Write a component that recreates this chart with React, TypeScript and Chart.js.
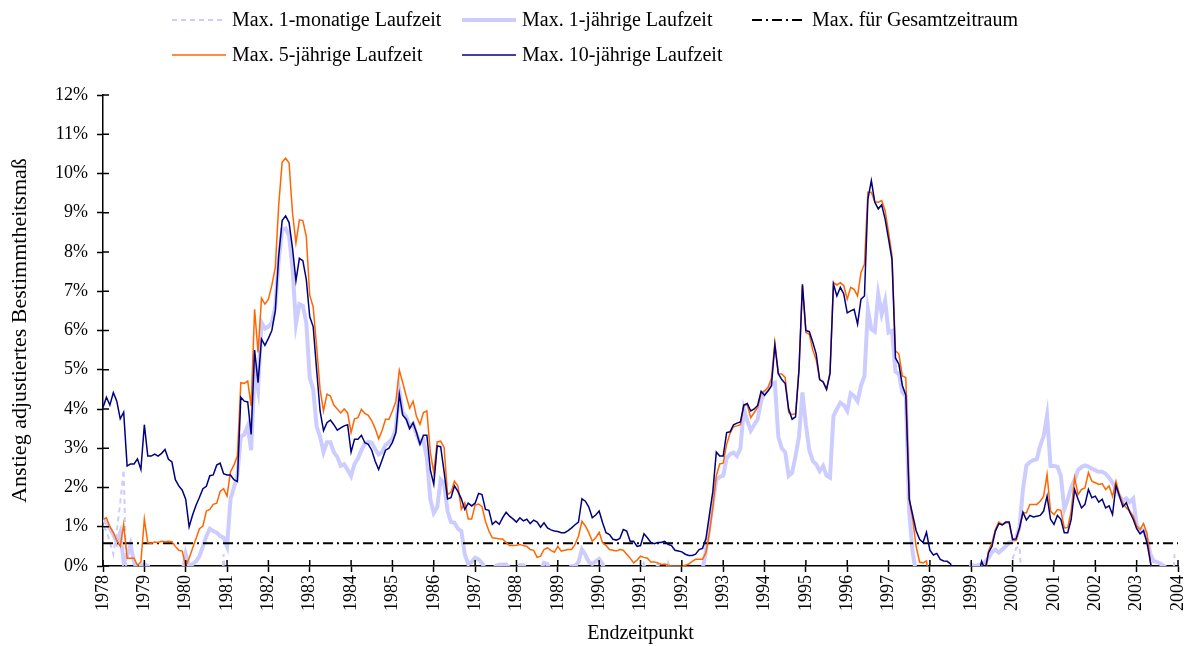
import React, { useEffect, useRef } from 'react';
import { Chart, registerables } from 'chart.js';

Chart.register(...registerables);

// ---------- data (monthly values in %, first value = January 1978) ----------
const SERIES_START = 1978;

const YEAR_TICKS = [
  1978, 1979, 1980, 1981, 1982, 1983, 1984, 1985, 1986, 1987, 1988, 1989, 1990,
  1991, 1992, 1993, 1994, 1995, 1996, 1997, 1998, 1999, 2000, 2001, 2002, 2003, 2004,
];
const PERCENT_TICKS = [0, 1, 2, 3, 4, 5, 6, 7, 8, 9, 10, 11, 12];

const OVERALL_MAX = 0.58;

const ONE_MONTH = [
  1.0, 0.9, 0.6, 0.3, 0.9, 1.6, 2.45, -1, -1, -1, -1, -1, // 1978
  -1, -1, -1, -1, -1, -1, -1, -1, -1, -1, -1, -1, // 1979
  0.4, -1, -1, -1, -1, -1, -1, -1, -1, -1, -1, 0.3, // 1980
  -1, -1, -1, -1, -1, -1, -1, -1, -1, -1, -1, -1, // 1981
  -1, -1, -1, -1, -1, -1, -1, -1, -1, -1, -1, -1, // 1982
  -1, -1, -1, -1, -1, -1, -1, -1, -1, -1, -1, -1, // 1983
  -1, -1, -1, -1, -1, -1, -1, -1, -1, -1, -1, -1, // 1984
  -1, -1, -1, -1, -1, -1, -1, -1, -1, -1, -1, -1, // 1985
  -1, -1, -1, -1, -1, -1, -1, -1, -1, -1, -1, -1, // 1986
  -1, -1, -1, -1, -1, -1, -1, -1, -1, -1, -1, -1, // 1987
  -1, -1, -1, -1, -1, -1, -1, -1, -1, -1, -1, -1, // 1988
  -1, -1, -1, -1, -1, -1, -1, -1, -1, -1, -1, -1, // 1989
  -1, -1, -1, -1, -1, -1, -1, -1, -1, -1, -1, -1, // 1990
  -1, -1, -1, -1, -1, -1, -1, -1, -1, -1, -1, -1, // 1991
  -1, -1, -1, -1, -1, -1, -1, -1, -1, -1, -1, -1, // 1992
  -1, -1, -1, -1, -1, -1, -1, -1, -1, -1, -1, -1, // 1993
  -1, -1, -1, -1, -1, -1, -1, -1, -1, -1, -1, -1, // 1994
  -1, -1, -1, -1, -1, -1, -1, -1, -1, -1, -1, -1, // 1995
  -1, -1, -1, -1, -1, -1, -1, -1, -1, -1, -1, -1, // 1996
  -1, -1, -1, -1, -1, -1, -1, -1, -1, -1, -1, -1, // 1997
  -1, -1, -1, -1, -1, -1, -1, -1, -1, -1, -1, -1, // 1998
  -1, -1, -1, -1, -1, -1, -1, -1, -1, -1, -1, -1, // 1999
  0.17, 0.46, 0.5, -1, -1, -1, -1, -1, -1, -1, -1, -1, // 2000
  -1, -1, -1, -1, -1, -1, -1, -1, -1, -1, -1, -1, // 2001
  -1, -1, -1, -1, -1, -1, -1, -1, -1, -1, -1, -1, // 2002
  -1, -1, -1, -1, -1, -1, -1, -1, -1, -1, -1, 0.3, // 2003
];

const ONE_YEAR = [
  1.2, 1.1, 0.95, 0.8, 0.6, 0.85, 0.1, 0.25, 0.55, 0.1, -0.1, 0.0, // 1978
  0.05, 0.0, -0.1, -0.2, -0.3, -0.3, -0.2, -0.2, -0.1, -0.1, -0.2, -0.2, // 1979
  0.3, 0.0, 0.05, 0.12, 0.25, 0.5, 0.76, 0.95, 0.89, 0.85, 0.76, 0.72, // 1980
  0.5, 1.7, 2.0, 2.3, 3.3, 3.35, 3.57, 2.95, 5.0, 4.5, 6.2, 6.05, // 1981
  6.1, 6.2, 6.6, 7.8, 8.57, 8.6, 8.41, 7.6, 6.16, 6.67, 6.63, 6.2, // 1982
  4.8, 4.5, 3.55, 3.3, 2.9, 3.15, 3.15, 2.9, 2.78, 2.55, 2.59, 2.45, // 1983
  2.29, 2.6, 2.74, 2.95, 3.12, 3.16, 3.14, 2.98, 2.84, 2.9, 3.08, 3.15, // 1984
  3.25, 3.5, 4.46, 3.9, 3.8, 3.55, 3.63, 3.35, 3.14, 3.2, 2.75, 1.7, // 1985
  1.35, 1.5, 2.2, 2.1, 1.4, 1.12, 1.1, 0.95, 0.89, 0.3, 0.05, 0.1, // 1986
  0.21, 0.17, 0.08, -0.1, -0.2, -0.1, 0.0, 0.03, 0.04, 0.04, -0.05, -0.1, // 1987
  -0.2, 0.02, 0.02, -0.1, -0.2, -0.3, -0.2, -0.1, 0.08, 0.05, -0.2, -0.3, // 1988
  -0.2, -0.2, -0.1, -0.1, 0.0, 0.0, 0.1, 0.42, 0.29, 0.1, 0.05, 0.12, // 1989
  0.18, 0.05, -0.2, -0.3, -0.3, -0.3, -0.3, -0.3, -0.3, -0.3, -0.3, -0.3, // 1990
  -0.3, 0.0, -0.2, -0.3, -0.2, 0.0, -0.2, -0.3, 0.0, -0.3, -0.3, -0.3, // 1991
  -0.3, -0.3, -0.3, -0.3, -0.3, -0.1, -0.1, 0.4, 1.0, 1.6, 2.2, 2.27, // 1992
  2.3, 2.75, 2.85, 2.89, 2.8, 3.0, 4.0, 3.7, 3.45, 3.6, 3.74, 4.2, // 1993
  4.42, 4.5, 4.63, 4.67, 3.3, 3.0, 2.9, 2.3, 2.38, 2.8, 3.3, 4.42, // 1994
  3.6, 2.95, 2.67, 2.59, 2.42, 2.55, 2.3, 2.25, 3.82, 4.0, 4.16, 4.1, // 1995
  3.95, 4.4, 4.33, 4.2, 4.6, 4.84, 6.54, 6.03, 5.97, 6.93, 6.42, 6.76, // 1996
  5.95, 5.99, 4.95, 4.89, 4.42, 4.33, 1.36, 0.34, -0.2, -0.4, -0.4, -0.4, // 1997
  -0.4, -0.4, -0.4, -0.4, -0.4, -0.4, -0.4, -0.4, -0.4, -0.4, -0.4, -0.4, // 1998
  0.03, 0.0, 0.02, 0.05, 0.1, 0.2, 0.35, 0.42, 0.34, 0.42, 0.5, 0.6, // 1999
  0.63, 0.7, 1.0, 1.95, 2.56, 2.65, 2.7, 2.72, 3.06, 3.31, 3.84, 2.55, // 2000
  2.55, 2.53, 2.3, 1.44, 1.7, 2.0, 2.2, 2.45, 2.52, 2.56, 2.53, 2.48, // 2001
  2.44, 2.4, 2.4, 2.35, 2.25, 2.12, 1.97, 1.8, 1.65, 1.72, 1.63, 1.72, // 2002
  1.06, 0.89, 0.93, 0.69, 0.3, 0.12, 0.1, 0.05, 0.0, -0.1, -0.1, -0.1, // 2003
];

const FIVE_YEAR = [
  1.19, 1.23, 1.0, 0.85, 0.65, 0.5, 1.06, 0.2, 0.2, 0.2, 0.02, 0.1, // 1978
  1.2, 0.59, 0.58, 0.61, 0.6, 0.63, 0.62, 0.63, 0.62, 0.5, 0.4, 0.38, // 1979
  0.0, 0.2, 0.45, 0.7, 0.95, 1.02, 1.4, 1.44, 1.57, 1.6, 1.9, 1.97, // 1980
  1.78, 2.4, 2.57, 2.8, 4.67, 4.65, 4.71, 4.08, 6.54, 5.44, 6.82, 6.67, // 1981
  6.8, 7.15, 7.6, 9.2, 10.29, 10.39, 10.27, 9.0, 8.23, 8.82, 8.8, 8.4, // 1982
  6.9, 6.6, 5.6, 4.5, 3.95, 4.38, 4.33, 4.1, 4.0, 3.9, 4.0, 3.9, // 1983
  3.4, 3.75, 3.78, 3.99, 3.89, 3.84, 3.7, 3.5, 3.24, 3.45, 3.74, 3.74, // 1984
  3.95, 4.2, 4.99, 4.67, 4.33, 4.02, 4.2, 3.8, 3.61, 3.91, 3.95, 2.9, // 1985
  2.38, 3.16, 3.18, 3.02, 1.82, 1.88, 2.16, 2.04, 1.45, 1.61, 1.2, 1.2, // 1986
  1.55, 1.58, 1.51, 1.14, 0.89, 0.72, 0.71, 0.69, 0.69, 0.6, 0.52, 0.52, // 1987
  0.53, 0.55, 0.52, 0.5, 0.42, 0.4, 0.22, 0.25, 0.42, 0.46, 0.4, 0.35, // 1988
  0.5, 0.38, 0.4, 0.42, 0.42, 0.55, 0.76, 1.14, 1.02, 0.85, 0.63, 0.72, // 1989
  0.86, 0.59, 0.52, 0.42, 0.4, 0.38, 0.42, 0.4, 0.3, 0.2, 0.08, 0.15, // 1990
  0.25, 0.22, 0.2, 0.1, 0.1, 0.08, 0.04, 0.05, 0.02, 0.0, 0.0, 0.0, // 1991
  0.0, 0.02, 0.05, 0.12, 0.17, 0.17, 0.17, 0.34, 0.85, 1.5, 2.3, 2.6, // 1992
  2.62, 3.1, 3.38, 3.55, 3.57, 3.6, 4.1, 4.1, 3.78, 3.91, 4.04, 4.4, // 1993
  4.46, 4.55, 4.78, 5.69, 4.9, 4.89, 4.8, 3.91, 3.86, 3.88, 5.0, 7.14, // 1994
  5.95, 5.9, 5.5, 5.25, 4.75, 4.7, 4.5, 4.93, 7.22, 7.16, 7.22, 7.14, // 1995
  6.8, 7.1, 7.05, 6.88, 7.48, 7.69, 9.52, 9.52, 9.28, 9.27, 9.31, 9.05, // 1996
  8.5, 7.9, 5.48, 5.4, 4.84, 4.8, 1.7, 1.19, 0.5, 0.1, 0.08, 0.13, // 1997
  -0.5, -0.5, -0.5, -0.5, -0.5, -0.5, -0.5, -0.5, -0.5, -0.5, -0.5, -0.5, // 1998
  -0.5, -0.5, -0.5, -0.5, -0.3, 0.38, 0.59, 0.93, 1.12, 1.05, 1.1, 1.1, // 1999
  0.66, 0.65, 0.95, 1.36, 1.35, 1.57, 1.57, 1.57, 1.65, 1.78, 2.33, 1.4, // 2000
  1.31, 1.44, 1.42, 0.97, 0.98, 1.4, 2.25, 1.82, 1.95, 1.99, 2.38, 2.16, // 2001
  2.12, 2.08, 2.1, 1.95, 2.04, 1.77, 2.16, 1.82, 1.6, 1.48, 1.4, 1.27, // 2002
  1.02, 0.93, 1.08, 0.83, 0.1, -0.5, -0.5, -0.5, -0.5, -0.5, -0.5, -0.5, // 2003
];

const TEN_YEAR = [
  4.04, 4.3, 4.1, 4.42, 4.2, 3.75, 3.92, 2.55, 2.6, 2.6, 2.73, 2.46, // 1978
  3.6, 2.8, 2.8, 2.85, 2.8, 2.87, 2.97, 2.72, 2.65, 2.2, 2.04, 1.93, // 1979
  1.7, 1.0, 1.3, 1.55, 1.75, 1.97, 2.03, 2.3, 2.32, 2.57, 2.62, 2.35, // 1980
  2.32, 2.32, 2.2, 2.15, 4.3, 4.2, 4.18, 3.35, 5.5, 4.67, 5.78, 5.62, // 1981
  5.8, 6.0, 6.5, 7.9, 8.8, 8.92, 8.75, 8.1, 7.27, 7.84, 7.78, 7.3, // 1982
  6.35, 6.1, 5.0, 3.95, 3.45, 3.65, 3.72, 3.6, 3.46, 3.52, 3.57, 3.6, // 1983
  2.9, 3.23, 3.23, 3.33, 3.14, 3.1, 2.95, 2.67, 2.46, 2.7, 2.95, 3.0, // 1984
  3.15, 3.4, 4.38, 3.84, 3.74, 3.5, 3.65, 3.4, 3.1, 3.33, 3.33, 2.45, // 1985
  2.08, 3.06, 3.04, 2.4, 1.71, 1.74, 2.04, 1.9, 1.71, 1.44, 1.6, 1.53, // 1986
  1.6, 1.85, 1.82, 1.44, 1.42, 1.06, 1.14, 1.06, 1.23, 1.37, 1.27, 1.2, // 1987
  1.12, 1.23, 1.15, 1.19, 1.08, 1.17, 1.12, 0.99, 1.1, 0.97, 0.92, 0.89, // 1988
  0.88, 0.85, 0.85, 0.9, 0.97, 1.05, 1.12, 1.71, 1.65, 1.5, 1.23, 1.3, // 1989
  1.4, 1.1, 0.85, 0.8, 0.68, 0.66, 0.7, 0.93, 0.89, 0.63, 0.63, 0.5, // 1990
  0.52, 0.82, 0.72, 0.6, 0.57, 0.6, 0.6, 0.63, 0.55, 0.52, 0.4, 0.38, // 1991
  0.36, 0.3, 0.27, 0.27, 0.3, 0.42, 0.45, 0.7, 1.3, 1.9, 2.9, 2.8, // 1992
  2.8, 3.4, 3.42, 3.6, 3.64, 3.67, 4.1, 4.14, 3.95, 4.0, 4.09, 4.45, // 1993
  4.35, 4.46, 4.59, 5.63, 4.9, 4.75, 4.65, 4.0, 3.74, 3.8, 5.0, 7.18, // 1994
  6.0, 5.97, 5.7, 5.4, 4.75, 4.69, 4.5, 4.9, 7.18, 6.88, 7.1, 6.93, // 1995
  6.45, 6.5, 6.54, 6.16, 6.8, 6.88, 9.35, 9.82, 9.27, 9.1, 9.2, 8.84, // 1996
  8.33, 7.8, 5.3, 5.14, 4.6, 4.35, 1.7, 1.3, 0.9, 0.68, 0.6, 0.86, // 1997
  0.4, 0.28, 0.32, 0.17, 0.13, 0.12, 0.05, -0.3, -0.6, -0.6, -0.6, -0.6, // 1998
  -0.6, -0.6, -0.3, 0.12, -0.1, 0.34, 0.5, 0.89, 1.08, 1.05, 1.12, 1.12, // 1999
  0.68, 0.69, 0.97, 1.37, 1.17, 1.29, 1.25, 1.27, 1.29, 1.4, 1.78, 1.19, // 2000
  1.06, 1.29, 1.19, 0.85, 0.85, 1.19, 1.95, 1.7, 1.48, 1.57, 1.95, 1.74, // 2001
  1.78, 1.63, 1.7, 1.48, 1.53, 1.31, 2.05, 1.78, 1.51, 1.61, 1.37, 1.19, // 2002
  0.95, 0.82, 0.9, 0.6, 0.1, -0.5, -0.6, -0.6, -0.6, -0.6, -0.6, -0.6, // 2003
];

// ---------- helpers ----------
const monthly = (values: number[]) =>
  values.map((v, i) => ({ x: SERIES_START + i / 12, y: v }));

const FONT = "'Liberation Serif', 'Times New Roman', serif";

// legend laid out as a fixed grid (3 items in row 1, 2 in row 2)
const gridLegend = {
  id: 'gridLegend',
  afterDraw(chart: any, _args: any, opts: any) {
    const ctx = chart.ctx as CanvasRenderingContext2D;
    const slots: number[][] = opts.slots;
    chart.data.datasets.forEach((ds: any, i: number) => {
      const slot = slots[i];
      if (!slot) return;
      const [x, y] = slot;
      ctx.save();
      ctx.strokeStyle = ds.borderColor;
      ctx.lineWidth = ds.borderWidth;
      ctx.setLineDash(ds.borderDash ?? []);
      ctx.beginPath();
      ctx.moveTo(x, y);
      ctx.lineTo(x + opts.sampleWidth, y);
      ctx.stroke();
      ctx.setLineDash([]);
      ctx.fillStyle = '#000';
      ctx.font = `${opts.fontSize}px ${FONT}`;
      ctx.textBaseline = 'middle';
      ctx.textAlign = 'left';
      ctx.fillText(ds.label, x + opts.sampleWidth + opts.gap, y + 1);
      ctx.restore();
    });
  },
};

// tick marks that cross the axis line (inner half)
const crossTicks = {
  id: 'crossTicks',
  afterDatasetsDraw(chart: any, _args: any, opts: any) {
    const ctx = chart.ctx as CanvasRenderingContext2D;
    const { left, bottom } = chart.chartArea;
    const xs = chart.scales.x;
    const ys = chart.scales.y;
    ctx.save();
    ctx.strokeStyle = '#000';
    ctx.lineWidth = opts.width;
    ctx.beginPath();
    ys.ticks.forEach((t: any) => {
      const p = ys.getPixelForValue(t.value);
      ctx.moveTo(left, p);
      ctx.lineTo(left + opts.length, p);
    });
    xs.ticks.forEach((t: any) => {
      const p = xs.getPixelForValue(t.value);
      ctx.moveTo(p, bottom);
      ctx.lineTo(p, bottom - opts.length);
    });
    ctx.stroke();
    ctx.restore();
  },
};

export default function App() {
  const canvasRef = useRef<HTMLCanvasElement | null>(null);

  useEffect(() => {
    document.body.style.margin = '0';
    const canvas = canvasRef.current;
    if (!canvas) return;

    Chart.defaults.font.family = FONT;
    Chart.defaults.color = '#000';

    const axisCommon = {
      grid: {
        drawOnChartArea: false,
        drawTicks: true,
        tickLength: 6,
        tickColor: '#000',
        tickWidth: 1.5,
      },
      border: { display: true, color: '#000', width: 1.5 },
    };

    const chart = new Chart(canvas, {
      type: 'line',
      data: {
        datasets: [
          {
            label: 'Max. 1-monatige Laufzeit',
            data: monthly(ONE_MONTH),
            borderColor: '#CCCCFF',
            borderWidth: 2,
            borderDash: [5, 4],
            pointRadius: 0,
            tension: 0,
            order: 4,
          } as any,
          {
            label: 'Max. 1-jährige Laufzeit',
            data: monthly(ONE_YEAR),
            borderColor: '#CCCCFF',
            borderWidth: 4,
            pointRadius: 0,
            tension: 0,
            order: 3,
          },
          {
            label: 'Max. für Gesamtzeitraum',
            data: [
              { x: YEAR_TICKS[0], y: OVERALL_MAX },
              { x: YEAR_TICKS[YEAR_TICKS.length - 1], y: OVERALL_MAX },
            ],
            borderColor: '#000000',
            borderWidth: 2,
            borderDash: [10, 4, 2, 4],
            pointRadius: 0,
            order: 2,
          },
          {
            label: 'Max. 5-jährige Laufzeit',
            data: monthly(FIVE_YEAR),
            borderColor: '#FF6600',
            borderWidth: 1.5,
            pointRadius: 0,
            tension: 0,
            order: 1,
          },
          {
            label: 'Max. 10-jährige Laufzeit',
            data: monthly(TEN_YEAR),
            borderColor: '#000080',
            borderWidth: 1.5,
            pointRadius: 0,
            tension: 0,
            order: 0,
          },
        ],
      },
      options: {
        animation: false,
        responsive: false,
        devicePixelRatio: 1,
        events: [],
        layout: { padding: { top: 95, right: 11, left: 0, bottom: 0 } },
        plugins: {
          legend: { display: false },
          tooltip: { enabled: false },
          gridLegend: {
            slots: [
              [172, 20],
              [462, 20],
              [752, 20],
              [172, 55],
              [462, 55],
            ],
            sampleWidth: 54,
            gap: 6,
            fontSize: 20,
          },
          crossTicks: { length: 6, width: 1.5 },
        } as any,
        scales: {
          x: {
            type: 'linear',
            min: YEAR_TICKS[0],
            max: YEAR_TICKS[YEAR_TICKS.length - 1],
            afterBuildTicks: (s: any) => {
              s.ticks = YEAR_TICKS.map((v) => ({ value: v }));
            },
            afterFit: (s: any) => {
              s.height = 80;
              s.paddingLeft = 0;
              s.paddingRight = 0;
            },
            ticks: {
              autoSkip: false,
              minRotation: 90,
              maxRotation: 90,
              padding: 3,
              color: '#000',
              font: { size: 18, family: FONT },
              callback: (v: any) => String(v),
            },
            title: {
              display: true,
              text: 'Endzeitpunkt',
              color: '#000',
              font: { size: 20, family: FONT },
              padding: { top: 0, bottom: 0 },
            },
            ...axisCommon,
          },
          y: {
            type: 'linear',
            min: PERCENT_TICKS[0],
            max: PERCENT_TICKS[PERCENT_TICKS.length - 1],
            afterBuildTicks: (s: any) => {
              s.ticks = PERCENT_TICKS.map((v) => ({ value: v }));
            },
            afterFit: (s: any) => {
              s.width = 103;
            },
            ticks: {
              padding: 9,
              color: '#000',
              font: { size: 18, family: FONT },
              callback: (v: any) => `${v}%`,
            },
            title: {
              display: true,
              text: 'Anstieg adjustiertes Bestimmtheitsmaß',
              color: '#000',
              font: { size: 22, family: FONT },
              padding: { top: 7, bottom: 0 },
            },
            ...axisCommon,
          },
        },
      },
      plugins: [gridLegend, crossTicks],
    });

    return () => {
      chart.destroy();
    };
  }, []);

  return (
    <div style={{ width: 1189, height: 646, background: '#fff' }}>
      <canvas ref={canvasRef} width={1189} height={646} style={{ display: 'block' }} />
    </div>
  );
}
